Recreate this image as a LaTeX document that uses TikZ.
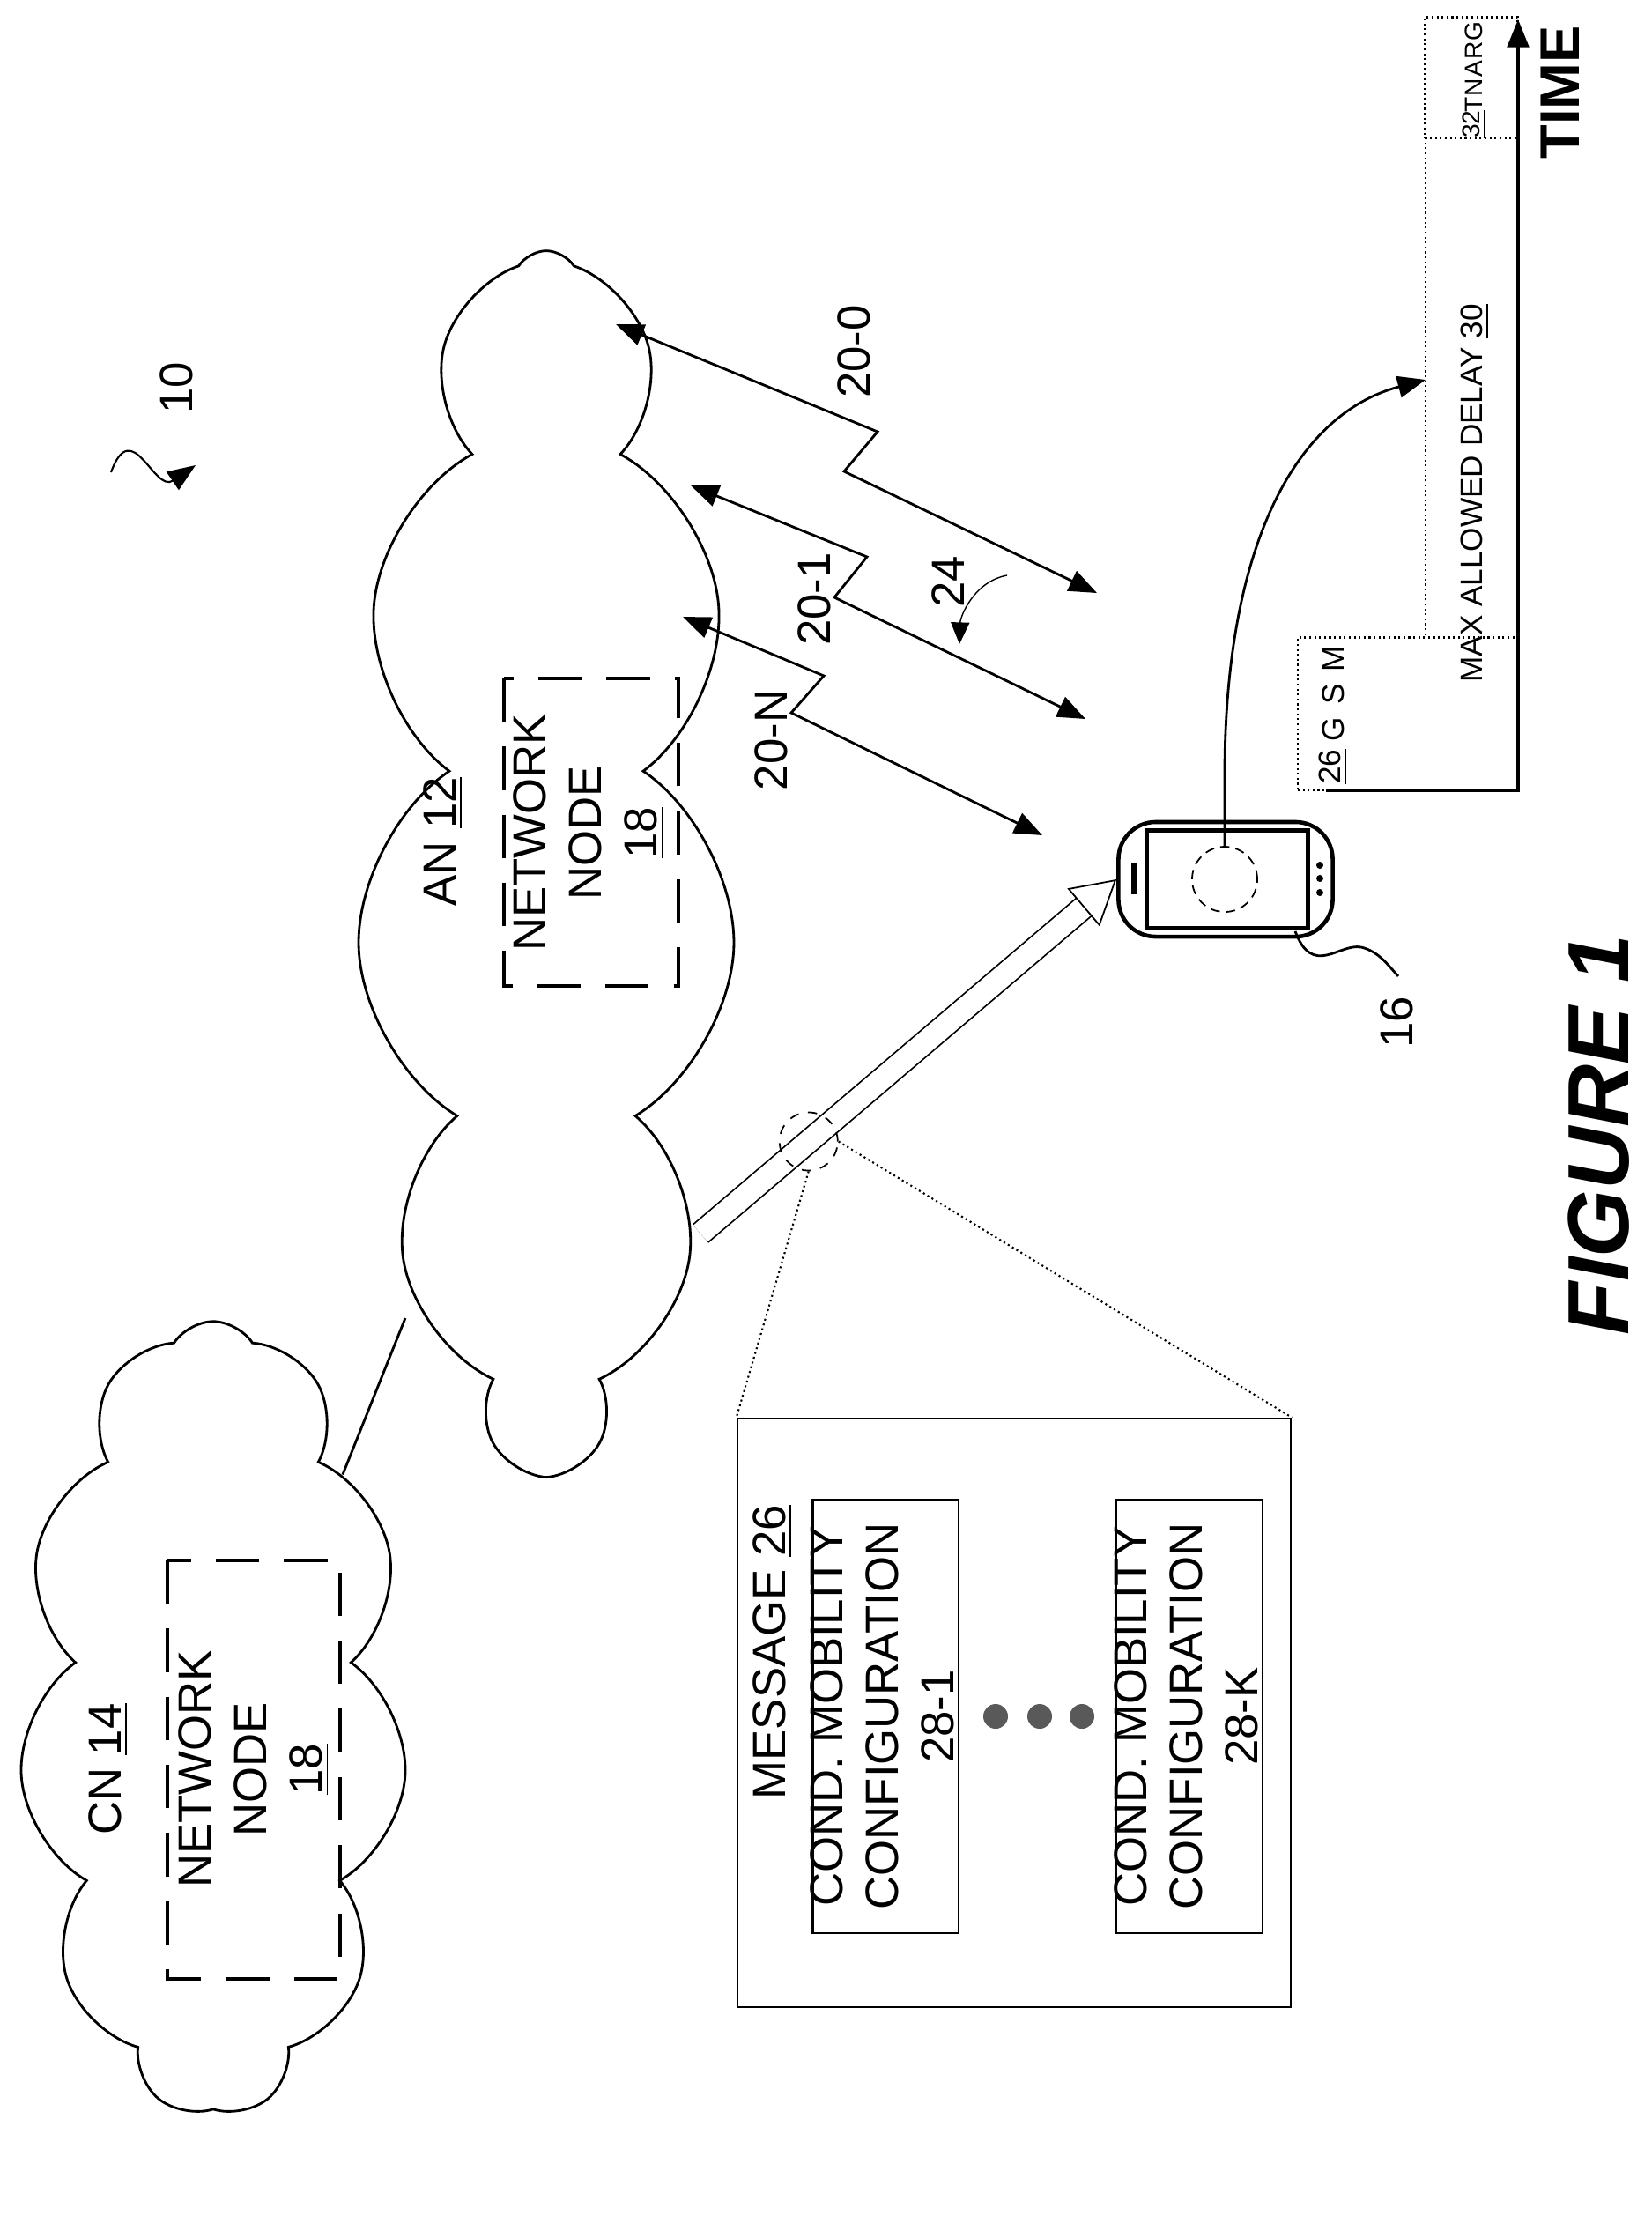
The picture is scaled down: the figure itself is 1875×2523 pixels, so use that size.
\documentclass[tikz,border=0pt]{standalone}
\usepackage{fontspec}
\setmainfont{Liberation Sans}
\usetikzlibrary{shapes.symbols,shapes.geometric,arrows.meta,positioning,calc}
\begin{document}
\begin{tikzpicture}[x=0.01cm, y=-0.01cm, >={Triangle[length=9pt,width=7pt]}, line width=0.8pt]
    \tikzstyle{label}=[rotate=90, font=\fontsize{15}{18}\selectfont, align=center, inner sep=0pt]
    \tikzstyle{cloudy}=[draw, cloud, cloud puffs=11, cloud puff arc=115, inner sep=0pt]
    \tikzstyle{nodebox}=[draw, dashed, dash pattern=on 14pt off 8pt, line width=1pt]
    \tikzstyle{dotbox}=[draw, densely dotted, line width=0.6pt]
    \useasboundingbox (0,0) rectangle (1875,2523);
    % clouds
    \node [cloudy, aspect=0.5, minimum width=4.4cm, minimum height=9.0cm] (cn) at (242,1950) {};
    \node [cloudy, aspect=0.3, minimum width=4.3cm, minimum height=13.8cm] (an) at (620,975) {};
    \coordinate (an-link) at (460,1496);
    \draw (cn.62) -- (an-link);
    % network nodes
    \node [label] (cn-text) at (123,2008) {CN \underline{14}};
    \draw [nodebox] (190,1771) rectangle (386,2246);
    \node [label] (cn-node) at (288,2008) {NETWORK\\NODE\\\underline{18}};
    \node [label] (an-text) at (503,955) {AN \underline{12}};
    \draw [nodebox] (572,770) rectangle (770,1119);
    \node [label] (an-node) at (668,945) {NETWORK\\NODE\\\underline{18}};
    % reference 10
    \node [label] (ref10) at (200,440) {10};
    \coordinate (sq-a) at (126,536);
    \coordinate (sq-b) at (222,528);
    \draw [->, line width=0.6pt] (sq-a) .. controls (150,470) and (175,560) .. (sq-b);
    % beams
    \coordinate (b0a) at (699,368);   \coordinate (b0b) at (996,490);
    \coordinate (b0c) at (958,535);   \coordinate (b0d) at (1245,673);
    \coordinate (b1a) at (784,551);   \coordinate (b1b) at (984,632);
    \coordinate (b1c) at (947,678);   \coordinate (b1d) at (1232,816);
    \coordinate (bna) at (775,700);   \coordinate (bnb) at (935,767);
    \coordinate (bnc) at (898,809);   \coordinate (bnd) at (1183,948);
    \draw [<->] (b0a) -- (b0b) -- (b0c) -- (b0d);
    \draw [<->] (b1a) -- (b1b) -- (b1c) -- (b1d);
    \draw [<->] (bna) -- (bnb) -- (bnc) -- (bnd);
    \node [label] (l20-0) at (969,399) {20-0};
    \node [label] (l20-1) at (924,680) {20-1};
    \node [label] (l20-N) at (875,840) {20-N};
    \node [label] (l24) at (1076,660) {24};
    \draw [-{Triangle[length=7pt,width=6pt]}, line width=0.4pt] (1143,653) .. controls (1105,660) and (1090,700) .. (1089,731);
    % wireless device
    \node [draw, rounded corners=12pt, line width=1.3pt, minimum width=2.43cm, minimum height=1.3cm] (ue) at (1391,998) {};
    \node [draw, line width=1.3pt, minimum width=1.83cm, minimum height=1.11cm] (screen) at (1393,998) {};
    \node [draw, circle, densely dashed, line width=0.5pt, minimum size=0.74cm] (ue-circle) at (1390,998) {};
    \draw [line width=1.5pt] (1287,980) -- (1287,1015);
    \foreach \y in {982,997,1013}
    \fill (1498,\y) circle (4);
    \coordinate (l16) at (1587,1108);
    \draw (1470,1057) .. controls (1490,1110) and (1520,1070) .. (1545,1075) .. controls (1565,1080) and (1575,1095) .. (l16);
    \node [label] (ref16) at (1585,1160) {16};
    % message on the link
    \coordinate (link-start) at (795,1400);
    \draw [double, double distance=7pt, line width=0.5pt, -{Triangle[open,length=14pt,width=16pt]}] (link-start) -- (ue.west);
    \node [draw, circle, dashed, minimum size=0.66cm, line width=0.5pt] (zoom) at ($(link-start)!0.26!(ue.west)$) {};
    \node [draw, minimum width=6.28cm, minimum height=6.68cm, line width=0.6pt] (msg) at (1151,1944) {};
    \draw [densely dotted, line width=0.6pt] (zoom.south) -- (msg.north west);
    \draw [densely dotted, line width=0.6pt] (zoom.east) -- (msg.north east);
    \node [label] (msg-text) at (877,1875) {MESSAGE \underline{26}};
    \node [draw, minimum width=1.65cm, minimum height=4.91cm, line width=0.6pt] (cfg-1) at (1005,1948) {};
    \node [label] at (cfg-1) {COND. MOBILITY\\CONFIGURATION\\\underline{28-1}};
    \node [draw, minimum width=1.66cm, minimum height=4.91cm, line width=0.6pt] (cfg-k) at (1350,1948) {};
    \node [label] at (cfg-k) {COND. MOBILITY\\CONFIGURATION\\\underline{28-K}};
    \foreach \x in {1130,1180,1228}
    \fill [gray!70!black] (\x,1948) circle (14);
    % timeline
    \coordinate (t-origin) at (1723,897);
    \coordinate (t-end) at (1723,22);
    \coordinate (t-start) at (1505,897);
    \draw [->, line width=1pt] (t-start) -- (t-origin) -- (t-end);
    \node [label, font=\fontsize{18}{20}\selectfont\bfseries] (time) at (1771,105) {TIME};
    \node [dotbox, minimum width=2.5cm, minimum height=1.73cm] (msg-slot) at (1598,810) {};
    \foreach \t/\y in {M/748,S/788,G/828,\underline{26}/870}
    \node [label, font=\fontsize{10}{12}\selectfont] at (1513,\y) {\t};
    \node [dotbox, minimum width=1.05cm, minimum height=1.37cm] (grant) at (1670,88) {};
    \foreach \t/\y in {G/36,R/57,A/78,N/99,T/119,\underline{32}/141}
    \node [label, font=\fontsize{8}{10}\selectfont] at (1673,\y) {\t};
    \coordinate (d-top) at (1618,156);
    \coordinate (d-bot) at (1618,724);
    \draw [densely dotted, line width=0.6pt] (d-top) -- (d-bot);
    \node [label, font=\fontsize{10}{12}\selectfont] (delay) at (1674,560) {MAX ALLOWED DELAY \underline{30}};
    \coordinate (d-hit) at (1618,431);
    \draw [->] (ue-circle.north) -- (1390,880) .. controls (1390,620) and (1470,470) .. (d-hit);
    % figure title
    \node [label, font=\fontsize{28}{32}\selectfont\bfseries\itshape] (fig) at (1815,1288) {FIGURE 1};
\end{tikzpicture}
\end{document}
